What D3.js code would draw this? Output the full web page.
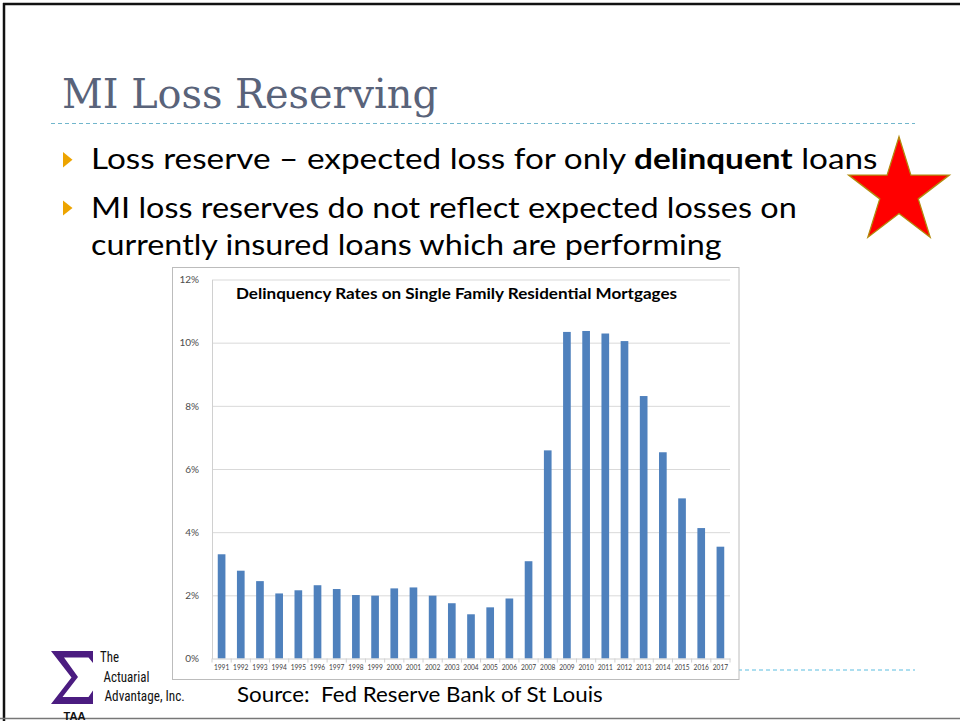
<!DOCTYPE html>
<html>
<head>
<meta charset="utf-8">
<script src="https://cdn.jsdelivr.net/npm/d3@7"></script>
<style>
  html, body { margin: 0; padding: 0; background: #fff; }
  svg { display: block; }
  text { white-space: pre; }
</style>
</head>
<body>
<svg id="slide" width="960" height="721"></svg>
<script>
// Delinquency rates on single family residential mortgages, percent (year-end)
const years = ["1991","1992","1993","1994","1995","1996","1997","1998","1999","2000",
               "2001","2002","2003","2004","2005","2006","2007","2008","2009","2010",
               "2011","2012","2013","2014","2015","2016","2017"];
const rates = [3.30, 2.78, 2.45, 2.06, 2.16, 2.32, 2.20, 2.01, 1.99, 2.22,
               2.25, 1.99, 1.75, 1.40, 1.62, 1.90, 3.08, 6.59, 10.34, 10.37,
               10.29, 10.05, 8.31, 6.53, 5.07, 4.13, 3.54];
const yTicks = [0, 2, 4, 6, 8, 10, 12];

const slideTitle = "MI Loss Reserving";
const chartTitle = "Delinquency Rates on Single Family Residential Mortgages";
const sourceNote = "Source:  Fed Reserve Bank of St Louis";
const logoLines = ["The", "Actuarial", "Advantage, Inc."];

const svg = d3.select("#slide");
const bodyFont = "Lato, 'Open Sans', sans-serif";
const narrowFont = "'Liberation Sans Narrow', 'Roboto Condensed', 'Liberation Sans', sans-serif";

// stretch or squeeze a text element horizontally so it spans a given width
function fitWidth(sel, x0, w) {
  const bb = sel.node().getBBox();
  const k = w / bb.width;
  sel.attr("transform", `translate(${x0},0) scale(${k},1) translate(${-x0},0)`);
}

// ---- slide frame ----
svg.append("line").attr("x1", 3).attr("x2", 960).attr("y1", 4).attr("y2", 4)
  .attr("stroke", "#111").attr("stroke-width", 2.5);
svg.append("line").attr("x1", 4).attr("x2", 4).attr("y1", 3).attr("y2", 721)
  .attr("stroke", "#111").attr("stroke-width", 2.5);
svg.append("line").attr("x1", 0).attr("x2", 960).attr("y1", 718.5).attr("y2", 718.5)
  .attr("stroke", "#777").attr("stroke-width", 1.5);

// ---- title ----
const t = svg.append("text").attr("x", 62).attr("y", 108)
  .attr("font-family", "'DejaVu Serif', 'Liberation Serif', serif")
  .attr("font-size", 41).attr("fill", "#59637a").text(slideTitle);
fitWidth(t, 62, 376);

svg.append("line").attr("x1", 51).attr("x2", 915).attr("y1", 123.5).attr("y2", 123.5)
  .attr("stroke", "#71b6cc").attr("stroke-width", 1).attr("stroke-dasharray", "4,3");

// ---- bullets ----
const bulletColor = "#eda400";
[[152, 167.5], [200.5, 215.5]].forEach(([y0, y1]) => {
  svg.append("path")
    .attr("d", `M63,${y0} L72.5,${(y0 + y1) / 2} L63,${y1} Z`)
    .attr("fill", bulletColor);
});

const bulletLines = [
  { y: 169, w: 787, parts: [["Loss reserve \u2013 expected loss for only ", 400], ["delinquent", 700], [" loans", 400]] },
  { y: 218, w: 706, parts: [["MI loss reserves do not reflect expected losses on", 400]] },
  { y: 255.5, w: 631, parts: [["currently insured loans which are performing", 400]] }
];
bulletLines.forEach(line => {
  const tx = svg.append("text").attr("x", 91).attr("y", line.y)
    .attr("font-family", bodyFont).attr("font-size", 29).attr("fill", "#000");
  line.parts.forEach(([s, wgt]) => tx.append("tspan").attr("font-weight", wgt).text(s));
  fitWidth(tx, 91, line.w);
});

// ---- star ----
(function () {
  const cx = 899, cy = 192.3, R = 53, r = 53 * 0.382, sy = 1.049;
  const pts = d3.range(10).map(i => {
    const a = -Math.PI / 2 + i * Math.PI / 5;
    const rad = i % 2 === 0 ? R : r;
    return [cx + rad * Math.cos(a), cy + rad * Math.sin(a) * sy];
  });
  svg.append("path").attr("d", d3.line()(pts) + "Z")
    .attr("fill", "#ff0000").attr("stroke", "#b28a0c").attr("stroke-width", 1.3);
})();

// ---- bottom dashed rule ----
svg.append("line").attr("x1", 738).attr("x2", 915).attr("y1", 670).attr("y2", 670)
  .attr("stroke", "#5bbde0").attr("stroke-width", 1).attr("stroke-dasharray", "4,3");

// ---- chart ----
const box = { x: 172, y: 267, w: 566.5, h: 412 };
svg.append("rect").attr("x", box.x + 0.5).attr("y", box.y + 0.5)
  .attr("width", box.w).attr("height", box.h)
  .attr("fill", "#fff").attr("stroke", "#bcbcbc").attr("stroke-width", 1);

const plot = { left: 212, right: 730, top: 279.5, bottom: 658.5 };
const x = d3.scaleBand().domain(years).range([plot.left, plot.right])
  .paddingInner(0.6).paddingOuter(0.3);
const y = d3.scaleLinear().domain([0, 12]).range([plot.bottom, plot.top]);

// gridlines
const grid = svg.append("g").attr("transform", `translate(${plot.left},0)`)
  .call(d3.axisLeft(y).tickValues(yTicks.filter(d => d > 0))
    .tickSize(-(plot.right - plot.left)).tickFormat(""));
grid.select(".domain").remove();
grid.selectAll("line").attr("stroke", "#d9d9d9").attr("stroke-width", 1);

// y axis
const yAxis = svg.append("g").attr("transform", `translate(${plot.left},0)`)
  .call(d3.axisLeft(y).tickValues(yTicks).tickSize(0).tickPadding(13)
    .tickFormat(d => d + "%"));
yAxis.select(".domain").attr("stroke", "#d0d0d0");
yAxis.selectAll("text").attr("font-family", bodyFont).attr("font-size", 10)
  .attr("fill", "#4d4d4d");

// bars
svg.append("g").selectAll("rect").data(years).join("rect")
  .attr("x", d => x(d)).attr("width", x.bandwidth())
  .attr("y", (d, i) => y(rates[i]))
  .attr("height", (d, i) => y(0) - y(rates[i]))
  .attr("fill", "#4f81bd");

// x axis
const xAxis = svg.append("g").attr("transform", `translate(0,${plot.bottom})`)
  .call(d3.axisBottom(x).tickSize(0).tickPadding(7));
xAxis.select(".domain").attr("stroke", "#d0d0d0");
xAxis.selectAll("text").attr("font-family", bodyFont).attr("font-size", 6.6)
  .attr("fill", "#404040");
// category separators below the axis
const bounds = years.map(d => x(d) + x.bandwidth() / 2 - x.step() / 2)
  .concat([x(years[years.length - 1]) + x.bandwidth() / 2 + x.step() / 2]);
xAxis.selectAll("line.sep").data(bounds).join("line").attr("class", "sep")
  .attr("x1", d => d).attr("x2", d => d).attr("y1", 0).attr("y2", 4)
  .attr("stroke", "#d0d0d0");

// chart title
const ct = svg.append("text").attr("x", 236).attr("y", 299.5)
  .attr("font-family", bodyFont).attr("font-weight", 700)
  .attr("font-size", 15).attr("fill", "#000").text(chartTitle);
fitWidth(ct, 236, 442);

// ---- source note ----
const sn = svg.append("text").attr("x", 237).attr("y", 702.5)
  .attr("font-family", bodyFont).attr("font-size", 22).attr("fill", "#000")
  .text(sourceNote);
fitWidth(sn, 237, 366);

// ---- logo ----
svg.append("path")
  .attr("d", "M51,651 L93,651 L93,663 L88.5,657.5 L64,657.5 L78,677 L62.5,697 L88.5,697 L93,690.5 L93,704 L51,704 L71.5,677.5 Z")
  .attr("fill", "#4b1c80");
const logoY = [662.5, 682, 701.5];
const logoX = [100, 103.5, 104.5];
const logoW = [19, 46, 80.5];
logoLines.forEach((s, i) => {
  const lt = svg.append("text").attr("x", logoX[i]).attr("y", logoY[i])
    .attr("font-family", narrowFont).attr("font-size", 15).attr("fill", "#111").text(s);
  fitWidth(lt, logoX[i], logoW[i]);
});
const taa = svg.append("text").attr("x", 63.5).attr("y", 720)
  .attr("font-family", "'Liberation Sans', sans-serif").attr("font-weight", 700)
  .attr("font-size", 10).attr("fill", "#111").text("TAA");
fitWidth(taa, 63.5, 22);
</script>
</body>
</html>
